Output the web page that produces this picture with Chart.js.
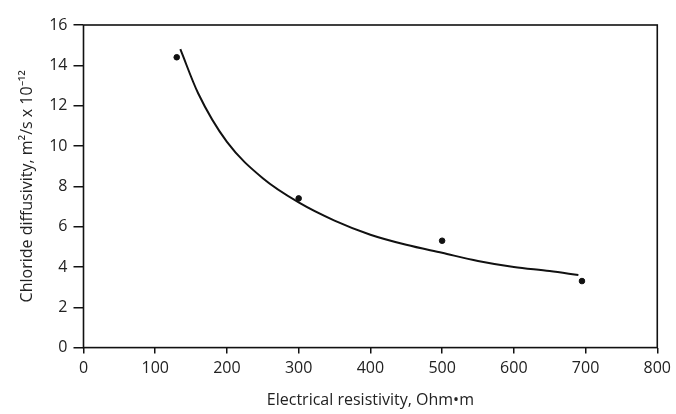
<!DOCTYPE html>
<html>
<head>
<meta charset="utf-8">
<script src="https://cdn.jsdelivr.net/npm/chart.js@4.4.1/dist/chart.umd.min.js"></script>
<style>
  html, body { margin: 0; padding: 0; background: #fff; }
  #wrap { width: 676px; height: 414px; }
</style>
</head>
<body>
<div id="wrap"><canvas id="chart" width="676" height="414"></canvas></div>
<script>
// measured points
const resistivity = [130, 300, 500, 695];
const diffusivity = [14.4, 7.4, 5.3, 3.3];

// fitted curve
const curveX = [135, 160, 200, 250, 300, 350, 400, 450, 500, 550, 600, 650, 690];
const curveY = [14.8, 12.6, 10.2, 8.4, 7.2, 6.3, 5.6, 5.1, 4.7, 4.3, 4.0, 3.8, 3.6];

const xTicks = [0, 100, 200, 300, 400, 500, 600, 700, 800];
const yTicks = [0, 2, 4, 6, 8, 10, 12, 14, 16];

const toXY = (xs, ys) => xs.map((x, i) => ({ x: x, y: ys[i] }));

const frame = {
  id: "frame",
  afterDraw(chart) {
    const { ctx, chartArea: a } = chart;
    ctx.save();
    ctx.strokeStyle = "#111";
    ctx.lineWidth = 1.6;
    ctx.strokeRect(a.left, a.top, a.right - a.left, a.bottom - a.top);
    ctx.restore();
  },
};

const font = { family: "'Open Sans', sans-serif", size: 16 };

new Chart(document.getElementById("chart"), {
  type: "scatter",
  data: {
    datasets: [
      {
        label: "Curve",
        type: "line",
        data: toXY(curveX, curveY),
        borderColor: "#111",
        borderWidth: 2,
        pointRadius: 0,
        fill: false,
        cubicInterpolationMode: "monotone",
      },
      {
        label: "Measured",
        data: toXY(resistivity, diffusivity),
        backgroundColor: "#111",
        borderColor: "#111",
        pointStyle: "circle",
        pointRadius: 2.8,
      },
    ],
  },
  options: {
    responsive: false,
    animation: false,
    layout: { padding: { left: 14, right: 18, top: 25, bottom: 0 } },
    plugins: { legend: { display: false }, tooltip: { enabled: false } },
    scales: {
      x: {
        type: "linear",
        min: 0,
        max: 800,
        afterBuildTicks: (axis) => { axis.ticks = xTicks.map((v) => ({ value: v })); },
        grid: { drawOnChartArea: false, drawTicks: true, tickLength: 6, color: "#111", lineWidth: 1.5 },
        border: { display: false },
        ticks: { color: "#222", font: font, padding: 5 },
        title: { display: true, text: "Electrical resistivity, Ohm\u2022m", color: "#222", font: font, padding: { top: 8 } },
      },
      y: {
        type: "linear",
        min: 0,
        max: 16,
        afterBuildTicks: (axis) => { axis.ticks = yTicks.map((v) => ({ value: v })); },
        grid: { drawOnChartArea: false, drawTicks: true, tickLength: 10, color: "#111", lineWidth: 1.5 },
        border: { display: false },
        ticks: { color: "#222", font: font, padding: 6 },
        title: { display: true, text: "Chloride diffusivity, m\u00b2/s x 10\u207b\u00b9\u00b2", color: "#222", font: font, padding: { bottom: 6 } },
      },
    },
  },
  plugins: [frame],
});
</script>
</body>
</html>
